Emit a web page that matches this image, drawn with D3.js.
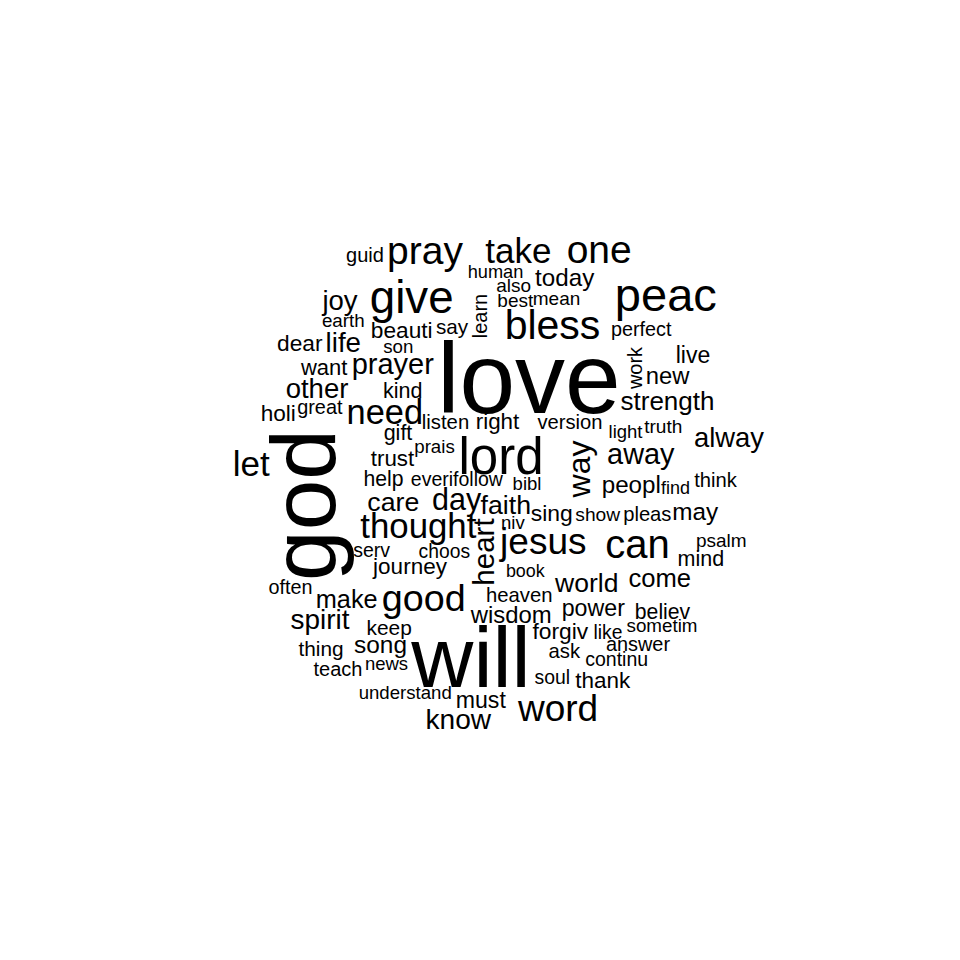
<!DOCTYPE html>
<html>
<head>
<meta charset="utf-8">
<script src="https://cdn.jsdelivr.net/npm/d3@7"></script>
<style>
  html, body { margin: 0; padding: 0; background: #fff; }
  svg { display: block; }
</style>
</head>
<body>
<script>
// Word cloud data
const wordList = [
 "love","god","will","lord","peac","give","bless","can","pray","one",
 "take","good","jesus","word","let","thought","need","way","day","heart",
 "away","prayer","know","spirit","life","joy","other","alway","care","faith",
 "strength","world","come","make","today","peopl","song","may","wisdom","new",
 "live","sing","power","forgiv","journey","beauti","trust","right","dear","holi",
 "thank","must","want","kind","gift","mind","help","keep","believ","thing",
 "say","listen","version","heaven","everi","follow","think","pleas","perfect","ask",
 "teach","great","guid","often","answer","learn","work","continu","serv","choos",
 "psalm","soul","like","truth","show","also","mean","best","earth","prais",
 "son","understand","light","niv","bibl","news","human","sometim","book","find"
];

// relative frequency weight of each word (drives font size)
const freq = [
 100,91,86,51,47,45.7,41,40,39,39,
 35,37.7,37,37,35,34.8,34.4,32,30.5,29.5,
 28.9,29,28.1,27.9,27.7,27.5,27.5,27.4,26.7,26.7,
 26,26.5,25.6,25.3,24.2,24.2,24.4,24.3,23.9,23.8,
 23,22.9,23.2,22.8,22.5,22.7,22.3,22.4,22.7,22.6,
 22.5,23.1,22,21.5,21.5,21.5,21.2,20.9,21.2,20.8,
 20.7,20.3,20.2,20.3,19.5,19.5,20.2,20.2,19.8,20.3,
 20,19.9,20,19.8,19.9,20,20,19.5,19.5,19.3,
 19,19.4,19.3,19.1,19.2,19,19,19,18.8,18.7,
 18.7,18.6,18.5,18.6,18.5,18.5,18.2,18.8,17.9,18
];

// layout coordinates of each word in the cloud
// (x: centre, or baseline for vertical words; y: baseline, or centre for vertical words)
const posX = [
 529,335,471,501,665.8,411.7,552.5,637.5,425,599.2,
 518.3,423.7,543.3,558,251.3,418.3,384.8,590,456.7,494,
 640.8,392.8,458.3,320,343.3,340,317,729,393.3,505.8,
 667.5,586.7,659.7,346.7,564.7,631.3,380.5,695.3,511.2,667.5,
 693,551.7,593.3,560.3,410,401.7,392.5,497.5,299.8,278.3,
 602.7,480.8,324.2,402.8,398,700.8,383.5,389.2,662.5,321,
 452,445.5,570,519.2,432,478,715.5,647.3,641.2,564.3,
 338,319.8,365,290.5,638,486.7,641.7,616.7,371.7,444.3,
 721.3,552.3,608,663.3,597.7,513.7,556.5,515.3,343.3,434.5,
 398.3,405.2,625.5,512.8,527,386.5,495.5,662,525.3,675.5
];
const posY = [
 413,505,687,474,311,313,339,558,264,263,
 263,611,554,721,476,537.5,424,469,510,552,
 463.5,373.5,728.5,628.5,351.5,309.5,397.5,446.5,510.5,514,
 409.5,592,586.5,608,286,493,653,519.5,623,384,
 362.7,521,616,638.5,574,337.7,466,429,351,421,
 687.7,707.7,375,397.5,440,566,485.7,634.7,619,655.7,
 333.7,428.6,428.6,602.3,485.5,485.5,487.2,521.2,335.5,657.8,
 675.5,413.5,262.2,593.8,651.2,316,368,666.4,557.1,558.4,
 547.1,683.7,638.7,433.4,521.1,292,305.4,307,327.4,453.3,
 353.3,698.6,438.3,528.6,490.3,670.3,278.3,632,577,494.3
];
// words drawn vertically (reading bottom to top)
const rotatedWords = ["god","way","heart","learn","work"];

const W = 960, H = 960;
const svg = d3.select("body").append("svg")
  .attr("width", W).attr("height", H);

const x = d3.scaleLinear().domain([0, 960]).range([0, W]);
const y = d3.scaleLinear().domain([0, 960]).range([0, H]);
const size = d3.scaleLinear().domain([0, 100]).range([0, 100]);

const data = wordList.map((w, i) => ({
  text: w, f: freq[i], x: posX[i], y: posY[i],
  rot: rotatedWords.includes(w)
}));

svg.append("g")
  .selectAll("text")
  .data(data)
  .join("text")
  .attr("transform", d => `translate(${x(d.x)},${y(d.y)})` + (d.rot ? " rotate(-90)" : ""))
  .attr("text-anchor", "middle")
  .attr("font-family", "'Liberation Sans', Arial, Helvetica, sans-serif")
  .attr("font-size", d => size(d.f) + "px")
  .attr("fill", "#000")
  .text(d => d.text);
</script>
</body>
</html>
